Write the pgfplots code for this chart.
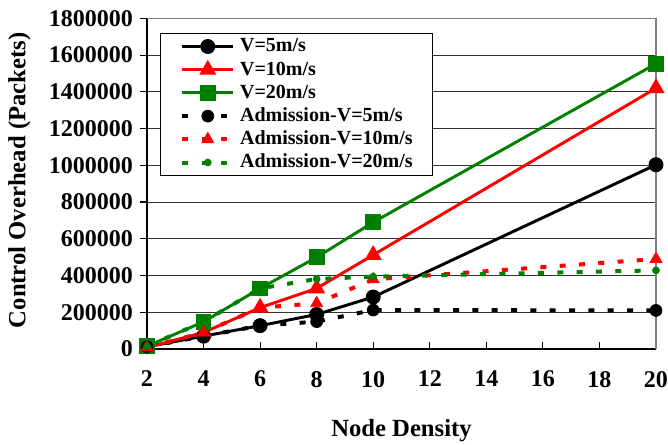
\documentclass[border=0pt]{standalone}
\usepackage{fontspec}
\setmainfont{Liberation Serif}
\usepackage{pgfplots}
\pgfplotsset{compat=1.18}
\definecolor{mygreen}{RGB}{0,128,0}
\definecolor{myred}{RGB}{255,0,0}
\begin{document}
\begin{tikzpicture}
\path[use as bounding box] (-110.25pt,-72pt) rectangle (390.75pt,261.75pt);
\begin{axis}[
  at={(0pt,0pt)}, anchor=south west,
  scale only axis, width=381.75pt, height=248pt,
  xmin=2, xmax=20, ymin=0, ymax=1800000,
  xtick={2,4,6,8,10,12,14,16,18,20},
  ytick={0,200000,400000,600000,800000,1000000,1200000,1400000,1600000,1800000},
  scaled y ticks=false,
  /pgf/number format/assume math mode=true,
  y tick label style={/pgf/number format/fixed,/pgf/number format/1000 sep={}, xshift=-2pt},
  ticklabel style={font=\fontsize{18}{18}\selectfont\bfseries},
  x tick label style={yshift=-13pt},
  axis x line*=bottom, axis y line*=left,
  axis line style={black, line width=0.8pt},
  xtick align=inside, ytick align=outside,
  major tick length=5pt,
  tick style={black, line width=0.8pt},
  ymajorgrids, major grid style={black!80, line width=0.75pt},
  clip=false,
  xlabel={Node Density},
  ylabel={Control Overhead (Packets)},
  label style={font=\fontsize{18.5}{18.5}\selectfont\bfseries},
  xlabel style={at={(axis description cs:0.5,0)}, anchor=base, yshift=-66pt},
  ylabel style={at={(axis description cs:-0.2504,0.51)}, anchor=center},
  legend style={at={(rel axis cs:0.0255,0.9556)}, anchor=north west, draw=black, line width=0.75pt,
    font=\fontsize{15}{15}\selectfont\bfseries, inner xsep=15pt, inner ysep=2.75pt,
    row sep=3.4pt, column sep=3.75pt,
    nodes={inner sep=0pt, text height=11pt, text depth=3pt}},
  legend cell align=left,
  legend image code/.code={\draw[mark repeat=2,mark phase=2] plot coordinates {(0pt,0pt) (19pt,0pt) (38pt,0pt)};},
]
\addplot[black, line width=2.2pt, mark=*, mark size=4.5pt, mark options={solid}] coordinates {(2,12000)(4,70000)(6,127000)(8,188000)(10,283000)(20,1003000)};
\addlegendentry{V=5m/s}
\addplot[myred, line width=2.2pt, mark=triangle*, mark size=5.2pt, mark options={solid}] coordinates {(2,8000)(4,90000)(6,225000)(8,330000)(10,512000)(20,1420000)};
\addlegendentry{V=10m/s}
\addplot[mygreen, line width=2.2pt, mark=square*, mark size=4.8pt, mark options={solid}] coordinates {(2,15000)(4,148000)(6,330000)(8,499000)(10,690000)(20,1553000)};
\addlegendentry{V=20m/s}
\addplot[black, line width=3pt, dash pattern=on 4.5pt off 10pt, mark=*, mark size=4.5pt, mark options={solid, line width=0.5pt}] coordinates {(2,12000)(4,70000)(6,127000)(8,149000)(10,212000)(20,210000)};
\addlegendentry{Admission-V=5m/s}
\addplot[myred, line width=3pt, dash pattern=on 4.5pt off 10pt, mark=triangle*, mark size=5.2pt, mark options={solid, line width=0.5pt}] coordinates {(2,8000)(4,90000)(6,225000)(8,249000)(10,379000)(20,490000)};
\addlegendentry{Admission-V=10m/s}
\addplot[mygreen, line width=3pt, dash pattern=on 4.5pt off 10pt, mark=*, mark size=2.6pt, mark options={solid, line width=0.5pt}] coordinates {(2,15000)(4,148000)(6,330000)(8,381000)(10,394000)(20,428000)};
\addlegendentry{Admission-V=20m/s}
\draw[gray, line width=0.8pt] (rel axis cs:0,1) -- (rel axis cs:1,1) -- (rel axis cs:1,0);
\end{axis}
\end{tikzpicture}
\end{document}
